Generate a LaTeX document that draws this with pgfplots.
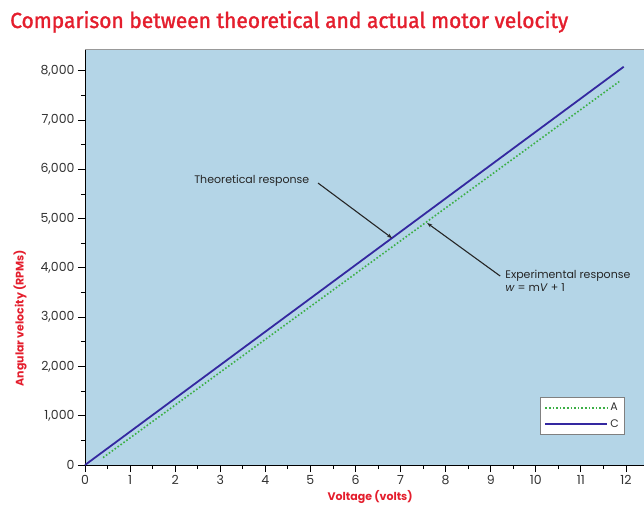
\documentclass[border=0pt]{standalone}
\usepackage{pgfplots}
\pgfplotsset{compat=1.18}
\usepackage{fontspec}
\setmainfont{Poppins}
\newfontfamily\titlefont{Fira Sans}[FakeBold=1.5]
\usetikzlibrary{arrows.meta}
\definecolor{bgblue}{RGB}{180,213,231}
\definecolor{titlered}{RGB}{228,30,45}
\definecolor{lineC}{RGB}{52,40,160}
\definecolor{lineA}{RGB}{60,175,70}
\definecolor{ticktext}{RGB}{50,50,50}
\begin{document}
\begin{tikzpicture}
\useasboundingbox (0,0) rectangle (644pt,512pt);
\node[anchor=base west, inner sep=0pt, text=titlered] at (10pt,484pt)
  {\resizebox{558pt}{17pt}{\titlefont Comparison between theoretical and actual motor velocity}};
\begin{axis}[
  at={(85pt,47pt)}, anchor=south west,
  scale only axis, width=559pt, height=415pt,
  xmin=0, xmax=12.4, ymin=0, ymax=8420,
  axis background/.style={fill=bgblue},
  axis x line*=bottom, axis y line*=left,
  axis line style={black, line width=0.8pt},
  tick align=outside,
  major tick length=7pt, minor tick length=4pt,
  every tick/.style={black, line width=0.8pt},
  xtick={0,1,...,12}, minor xtick={0.5,1.5,...,11.5},
  ytick={0,1000,...,8000}, minor ytick={500,1500,...,7500},
  scaled y ticks=false,
  /pgf/number format/assume math mode=true,
  yticklabel style={/pgf/number format/.cd, 1000 sep={,}},
  ticklabel style={font=\fontsize{12.5}{14}\selectfont, text=ticktext},
  xlabel={Voltage (volts)},
  ylabel={Angular velocity (RPMs)},
  label style={font=\bfseries\fontsize{11}{13}\selectfont, text=titlered},
  xlabel style={at={(axis description cs:0.51,-0.085)}, anchor=base},
  ylabel style={at={(axis description cs:-0.11,0.354)}, anchor=base},
  clip=false,
  legend style={at={(axis cs:11.98,1380)}, anchor=north east,
    draw=gray, line width=0.6pt, fill=white,
    font=\fontsize{11}{12}\selectfont, text=ticktext,
    row sep=3pt, inner sep=4pt},
  legend cell align=left,
  legend image code/.code={\draw[#1] (0pt,0pt) -- (62pt,0pt);},
]
\addplot[lineA, line width=1.6pt, dotted] coordinates {(0.4,150) (11.85,7780)};
\addlegendentry{A}
\addplot[lineC, line width=1.8pt] coordinates {(0,0) (11.95,8080)};
\addlegendentry{C}
\draw[gray!80, line width=1pt] (rel axis cs:0,1) -- (rel axis cs:1,1);
\node[anchor=west, font=\fontsize{11}{12}\selectfont, text=black!85, inner sep=0pt] at (axis cs:2.42,5760) {Theoretical response};
\draw[black!85, line width=1.1pt, -{Stealth[length=5pt]}] (axis cs:5.17,5720) -- (axis cs:6.81,4604);
\node[anchor=north west, align=left, font=\fontsize{11}{13}\selectfont, text=black!85, inner sep=0pt] at (axis cs:9.32,3960) {Experimental response\\ \textit{w} = m\textit{V} + 1};
\draw[black!85, line width=1.1pt, -{Stealth[length=5pt]}] (axis cs:9.21,3834) -- (axis cs:7.59,4909);
\end{axis}
\end{tikzpicture}
\end{document}
